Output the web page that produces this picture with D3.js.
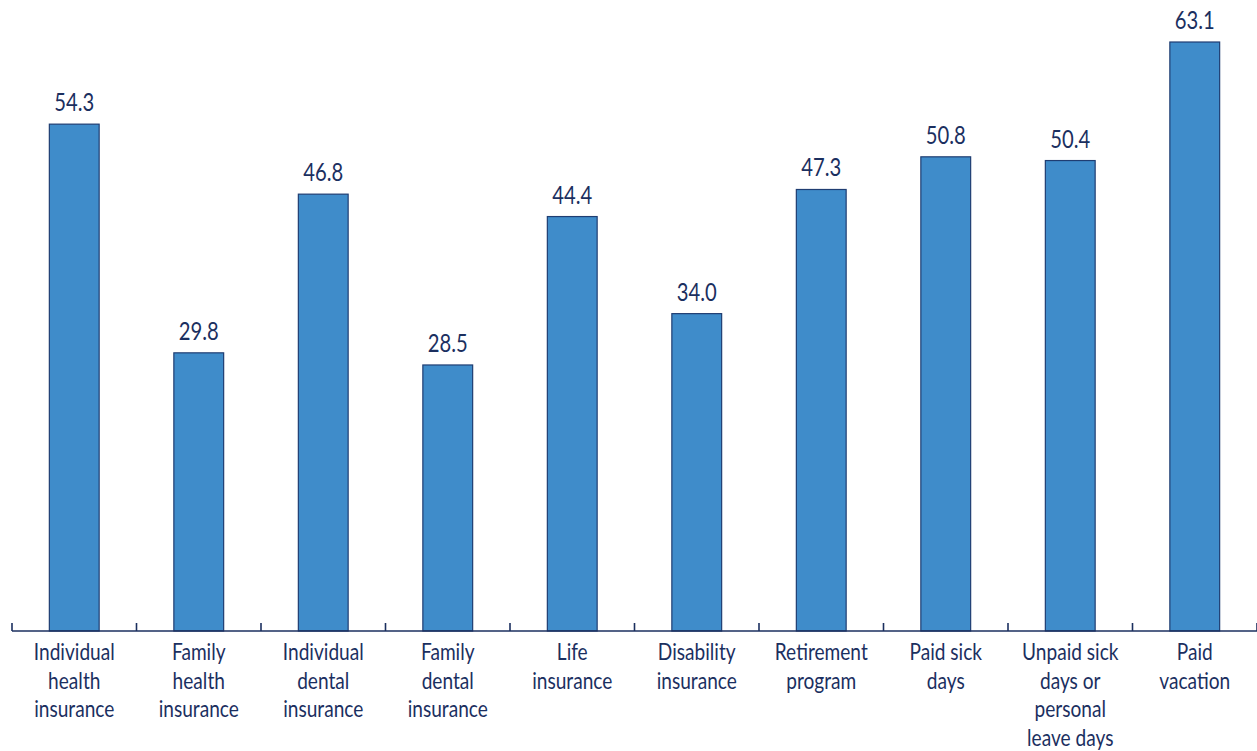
<!DOCTYPE html>
<html>
<head>
<meta charset="utf-8">
<script src="https://cdn.jsdelivr.net/npm/d3@7/dist/d3.min.js"></script>
<style>
  html, body { margin: 0; padding: 0; background: #fff; }
  svg { display: block; }
  text { font-family: Lato, "Liberation Sans", sans-serif; fill: #1b2f5f; }
</style>
</head>
<body>
<svg id="chart" width="1257" height="751"></svg>
<script>
// Share of respondents offered each benefit (%)
const categories = [
  "Individual health insurance",
  "Family health insurance",
  "Individual dental insurance",
  "Family dental insurance",
  "Life insurance",
  "Disability insurance",
  "Retirement program",
  "Paid sick days",
  "Unpaid sick days or personal leave days",
  "Paid vacation"
];
const values = [54.3, 29.8, 46.8, 28.5, 44.4, 34.0, 47.3, 50.8, 50.4, 63.1];

// Line breaks for the category labels under the axis
const labelLines = [
  ["Individual", "health", "insurance"],
  ["Family", "health", "insurance"],
  ["Individual", "dental", "insurance"],
  ["Family", "dental", "insurance"],
  ["Life", "insurance"],
  ["Disability", "insurance"],
  ["Retirement", "program"],
  ["Paid sick", "days"],
  ["Unpaid sick", "days or", "personal", "leave days"],
  ["Paid", "vacation"]
];

const svg = d3.select("#chart");
const baseY = 631;
const left = 12, right = 1257;
const fontSize = 24;
const valueFontSize = 25;

// Condensed look: measure sample strings and squeeze text horizontally
function squeeze(sample, target, size) {
  const probe = svg.append("text").attr("font-size", size).text(sample);
  const w = probe.node().getComputedTextLength();
  probe.remove();
  return target / w;
}
const sx = squeeze("Individual", 81, fontSize);
const sxVal = squeeze("54.3", 40, valueFontSize);

const x = d3.scaleBand()
  .domain(categories)
  .range([left, right])
  .paddingInner(0.6)
  .paddingOuter(0.3);

const y = d3.scaleLinear()
  .domain([0, 67.6])
  .range([baseY, 0]);

const navy = "#1b2f5f";
const cx = c => x(c) + x.bandwidth() / 2;

// Bars
svg.append("g")
  .selectAll("rect")
  .data(values)
  .join("rect")
  .attr("x", (d, i) => x(categories[i]))
  .attr("y", d => y(d))
  .attr("width", x.bandwidth())
  .attr("height", d => baseY - y(d))
  .attr("fill", "#3f8cca")
  .attr("stroke", "#1f3d72")
  .attr("stroke-width", 1.2);

// Value labels above bars
svg.append("g")
  .selectAll("text")
  .data(values)
  .join("text")
  .attr("transform", (d, i) => `translate(${cx(categories[i])},${y(d) - 13}) scale(${sxVal},1)`)
  .attr("text-anchor", "middle")
  .attr("font-size", valueFontSize)
  .text(d => d.toFixed(1));

// Axis baseline with ticks between categories
const step = x.step();
const tickPos = d3.range(categories.length + 1).map(i => left + i * step);
const axis = svg.append("g");
axis.append("line")
  .attr("x1", left).attr("x2", right)
  .attr("y1", baseY).attr("y2", baseY)
  .attr("stroke", navy).attr("stroke-width", 1.6);
axis.selectAll("line.tick")
  .data(tickPos)
  .join("line")
  .attr("class", "tick")
  .attr("x1", d => d).attr("x2", d => d)
  .attr("y1", baseY - 8).attr("y2", baseY)
  .attr("stroke", navy).attr("stroke-width", 1.6);

// Category labels
const lab = svg.append("g")
  .selectAll("text")
  .data(categories)
  .join("text")
  .attr("transform", d => `translate(${cx(d)},660) scale(${sx},1)`)
  .attr("text-anchor", "middle")
  .attr("font-size", fontSize);
lab.each(function(d, i) {
  d3.select(this).selectAll("tspan")
    .data(labelLines[i])
    .join("tspan")
    .attr("x", 0)
    .attr("dy", (t, j) => j === 0 ? 0 : 28.7)
    .text(t => t);
});
</script>
</body>
</html>
